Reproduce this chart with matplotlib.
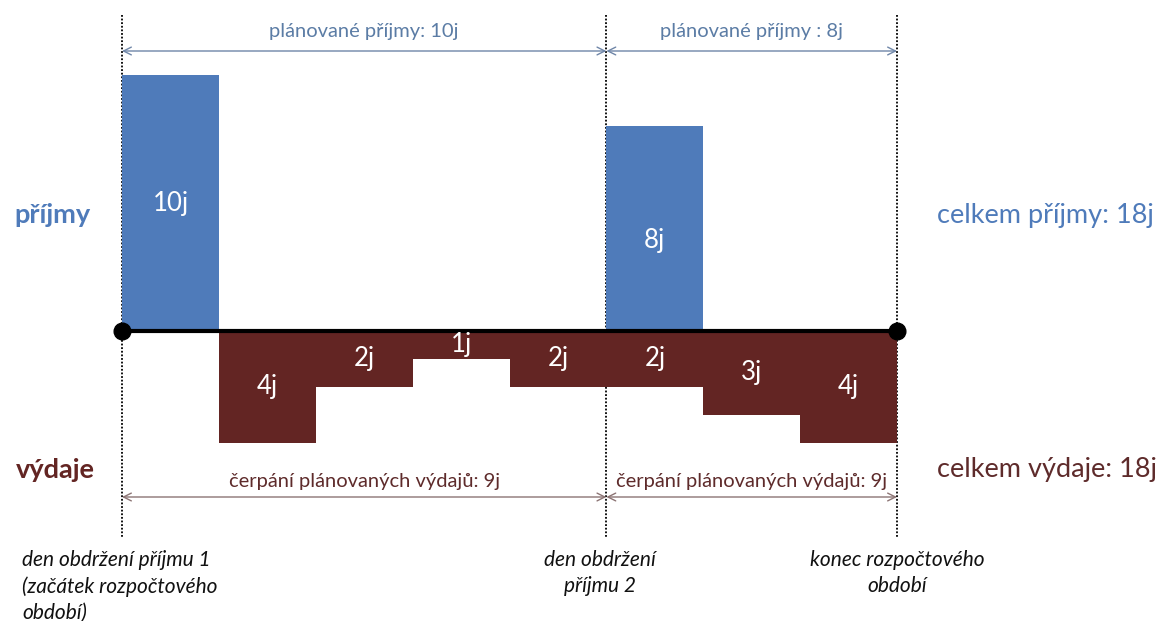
import matplotlib
matplotlib.use("Agg")
import matplotlib.pyplot as plt

# ---- data ----
income_slots = [0, 5]
income_values = [10, 8]
income_labels = ["10j", "8j"]
expense_slots = [1, 2, 3, 4, 5, 6, 7]
expense_values = [4, 2, 1, 2, 2, 3, 4]
expense_labels = ["4j", "2j", "1j", "2j", "2j", "3j", "4j"]
milestones = [0, 5, 8]
top_spans = [(0, 5, "plánované příjmy: 10j"), (5, 8, "plánované příjmy : 8j")]
bottom_spans = [(0, 5, "čerpání plánovaných výdajů: 9j"), (5, 8, "čerpání plánovaných výdajů: 9j")]
total_income = "celkem příjmy: 18j"
total_expense = "celkem výdaje: 18j"

# ---- style ----
BLUE = "#4F7BBA"
RED = "#632523"
BLUE_TXT = "#5B7CA5"
RED_TXT = "#5E2B2B"
EXP_SCALE = 1.10
FONT = ["Lato", "DejaVu Sans"]
plt.rcParams["font.family"] = FONT

fig = plt.figure(figsize=(11.65, 6.21), dpi=100)
ax = fig.add_axes([0, 0, 1, 1])
px = 96.875
py = 25.6
ax.set_xlim(-122 / px, (1165 - 122) / px)
ax.set_ylim(-(621 - 331) / py, 331 / py)
ax.axis("off")


def X(p):
    return (p - 122) / px


def Y(p):
    return (331 - p) / py


# dotted verticals
for m in milestones:
    ax.plot([m, m], [Y(15), Y(537)], color="black",
            linestyle=(0, (1, 1)), lw=1.3, zorder=1)

# income bars
ax.bar(income_slots, income_values, width=1, align="edge", color=BLUE, zorder=2)
label_frac = [0.5, 0.44]
for s, v, l, f in zip(income_slots, income_values, income_labels, label_frac):
    ax.text(s + 0.5, v * f, l, color="white", ha="center", va="center", fontsize=18.5, zorder=4)

# expense bars
neg = [-v * EXP_SCALE * 25.4 / py for v in expense_values]
ax.bar(expense_slots, neg, width=1, align="edge", color=RED, zorder=2)
for s, v, l in zip(expense_slots, neg, expense_labels):
    ax.text(s + 0.5, v / 2, l, color="white", ha="center", va="center", fontsize=18.5, zorder=4)

# baseline
ax.plot([milestones[0], milestones[-1]], [0, 0], color="black", lw=3, zorder=3,
        marker="o", markersize=12, markevery=[0, 1])

# top spans
for a, b, t in top_spans:
    ax.annotate("", xy=(a, Y(51)), xytext=(b, Y(51)),
                arrowprops=dict(arrowstyle="<->", color="#6F86A8", lw=1,
                                shrinkA=0, shrinkB=0, mutation_scale=14))
    ax.text((a + b) / 2, Y(31), t, color=BLUE_TXT, ha="center", va="center", fontsize=14.5)

for a, b, t in bottom_spans:
    ax.annotate("", xy=(a, Y(497)), xytext=(b, Y(497)),
                arrowprops=dict(arrowstyle="<->", color="#8C7474", lw=1,
                                shrinkA=0, shrinkB=0, mutation_scale=14))
    ax.text((a + b) / 2, Y(482), t, color=RED_TXT, ha="center", va="center", fontsize=14.5)

# side labels
ax.text(X(52), Y(215), "příjmy", color=BLUE, fontsize=19.5, fontweight="bold", ha="center", va="center")
ax.text(X(55), Y(470), "výdaje", color=RED, fontsize=19.5, fontweight="bold", ha="center", va="center")
ax.text(X(1045), Y(215), total_income, color=BLUE, fontsize=19.5, ha="center", va="center")
ax.text(X(1047), Y(470), total_expense, color=RED_TXT, fontsize=19.5, ha="center", va="center")

# bottom captions
cap_kw = dict(fontsize=15, style="italic", va="top", linespacing=1.38, color="#111111")
ax.text(X(22), Y(550), "den obdržení příjmu 1\n(začátek rozpočtového\nobdobí)", ha="left", **cap_kw)
ax.text(X(600), Y(550), "den obdržení\npříjmu 2", ha="center", **cap_kw)
ax.text(X(897), Y(550), "konec rozpočtového\nobdobí", ha="center", **cap_kw)

fig.savefig("out.png", dpi=100)
